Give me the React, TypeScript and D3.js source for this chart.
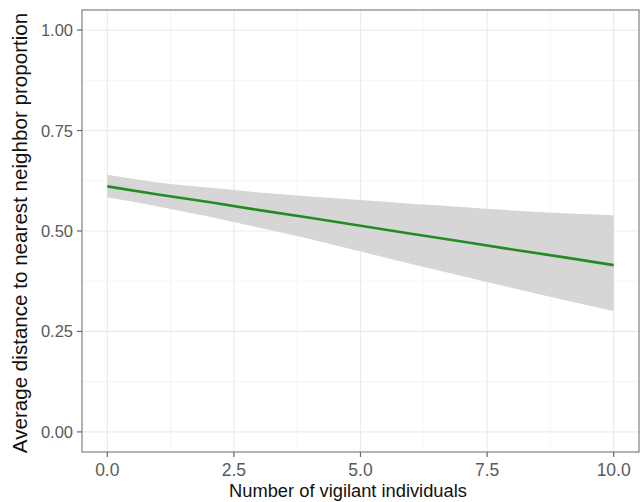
import React from "react";
import * as d3 from "d3";

const xValues = [0, 1, 2, 3, 4, 5, 6, 7, 8, 9, 10];
const fitValues = [0.611, 0.591, 0.572, 0.552, 0.533, 0.513, 0.493, 0.474, 0.454, 0.435, 0.415];
const upperValues = [0.640, 0.621, 0.608, 0.596, 0.586, 0.577, 0.568, 0.560, 0.551, 0.544, 0.539];
const lowerValues = [0.584, 0.561, 0.536, 0.508, 0.480, 0.449, 0.418, 0.388, 0.358, 0.329, 0.301];
const xTicks = [0, 2.5, 5, 7.5, 10];
const yTicks = [0, 0.25, 0.5, 0.75, 1];
const xMinor = [1.25, 3.75, 6.25, 8.75];
const yMinor = [0.125, 0.375, 0.625, 0.875];

const W = 640;
const H = 502;
const panel = { left: 82, right: 639, top: 10, bottom: 452 };

export default function App() {
  const x = d3.scaleLinear().domain([-0.5, 10.5]).range([panel.left, panel.right]);
  const y = d3.scaleLinear().domain([-0.05, 1.05]).range([panel.bottom, panel.top]);
  const idx = xValues.map((_, i) => i);
  const area = d3
    .area<number>()
    .x((i) => x(xValues[i]))
    .y0((i) => y(lowerValues[i]))
    .y1((i) => y(upperValues[i]))
    .curve(d3.curveMonotoneX);
  const line = d3
    .line<number>()
    .x((i) => x(xValues[i]))
    .y((i) => y(fitValues[i]));
  const font = "'Liberation Sans', Arial, sans-serif";
  return (
    <svg width={W} height={H} style={{ position: "absolute", left: 0, top: 0 }} fontFamily={font}>
      <rect x={0} y={0} width={W} height={H} fill="#fff" />
      {xMinor.map((v) => (
        <line key={"xm" + v} x1={x(v)} x2={x(v)} y1={panel.top} y2={panel.bottom} stroke="#F2F2F2" strokeWidth={0.8} />
      ))}
      {yMinor.map((v) => (
        <line key={"ym" + v} x1={panel.left} x2={panel.right} y1={y(v)} y2={y(v)} stroke="#F2F2F2" strokeWidth={0.8} />
      ))}
      {xTicks.map((v) => (
        <line key={"xg" + v} x1={x(v)} x2={x(v)} y1={panel.top} y2={panel.bottom} stroke="#EBEBEB" strokeWidth={1.2} />
      ))}
      {yTicks.map((v) => (
        <line key={"yg" + v} x1={panel.left} x2={panel.right} y1={y(v)} y2={y(v)} stroke="#EBEBEB" strokeWidth={1.2} />
      ))}
      <path d={area(idx) || ""} fill="#D6D6D6" />
      <path d={line(idx) || ""} fill="none" stroke="#238B23" strokeWidth={2.6} />
      <rect
        x={panel.left}
        y={panel.top}
        width={panel.right - panel.left}
        height={panel.bottom - panel.top}
        fill="none"
        stroke="#8A8A8A"
        strokeWidth={1.3}
      />
      {xTicks.map((v) => (
        <g key={"xt" + v}>
          <line x1={x(v)} x2={x(v)} y1={panel.bottom} y2={panel.bottom + 5} stroke="#666" strokeWidth={1.2} />
          <text x={x(v)} y={panel.bottom + 24} textAnchor="middle" fontSize={17.5} fill="#5a5a5a">
            {d3.format(".1f")(v)}
          </text>
        </g>
      ))}
      {yTicks.map((v) => (
        <g key={"yt" + v}>
          <line x1={panel.left - 5} x2={panel.left} y1={y(v)} y2={y(v)} stroke="#666" strokeWidth={1.2} />
          <text x={panel.left - 9} y={y(v) + 6} textAnchor="end" fontSize={16.5} fill="#5a5a5a">
            {d3.format(".2f")(v)}
          </text>
        </g>
      ))}
      <text x={348} y={497} textAnchor="middle" fontSize={18.3} fill="#111">
        Number of vigilant individuals
      </text>
      <text
        transform={`translate(27,233) rotate(-90)`}
        textAnchor="middle"
        fontSize={20.6}
        fill="#111"
      >
        Average distance to nearest neighbor proportion
      </text>
    </svg>
  );
}
